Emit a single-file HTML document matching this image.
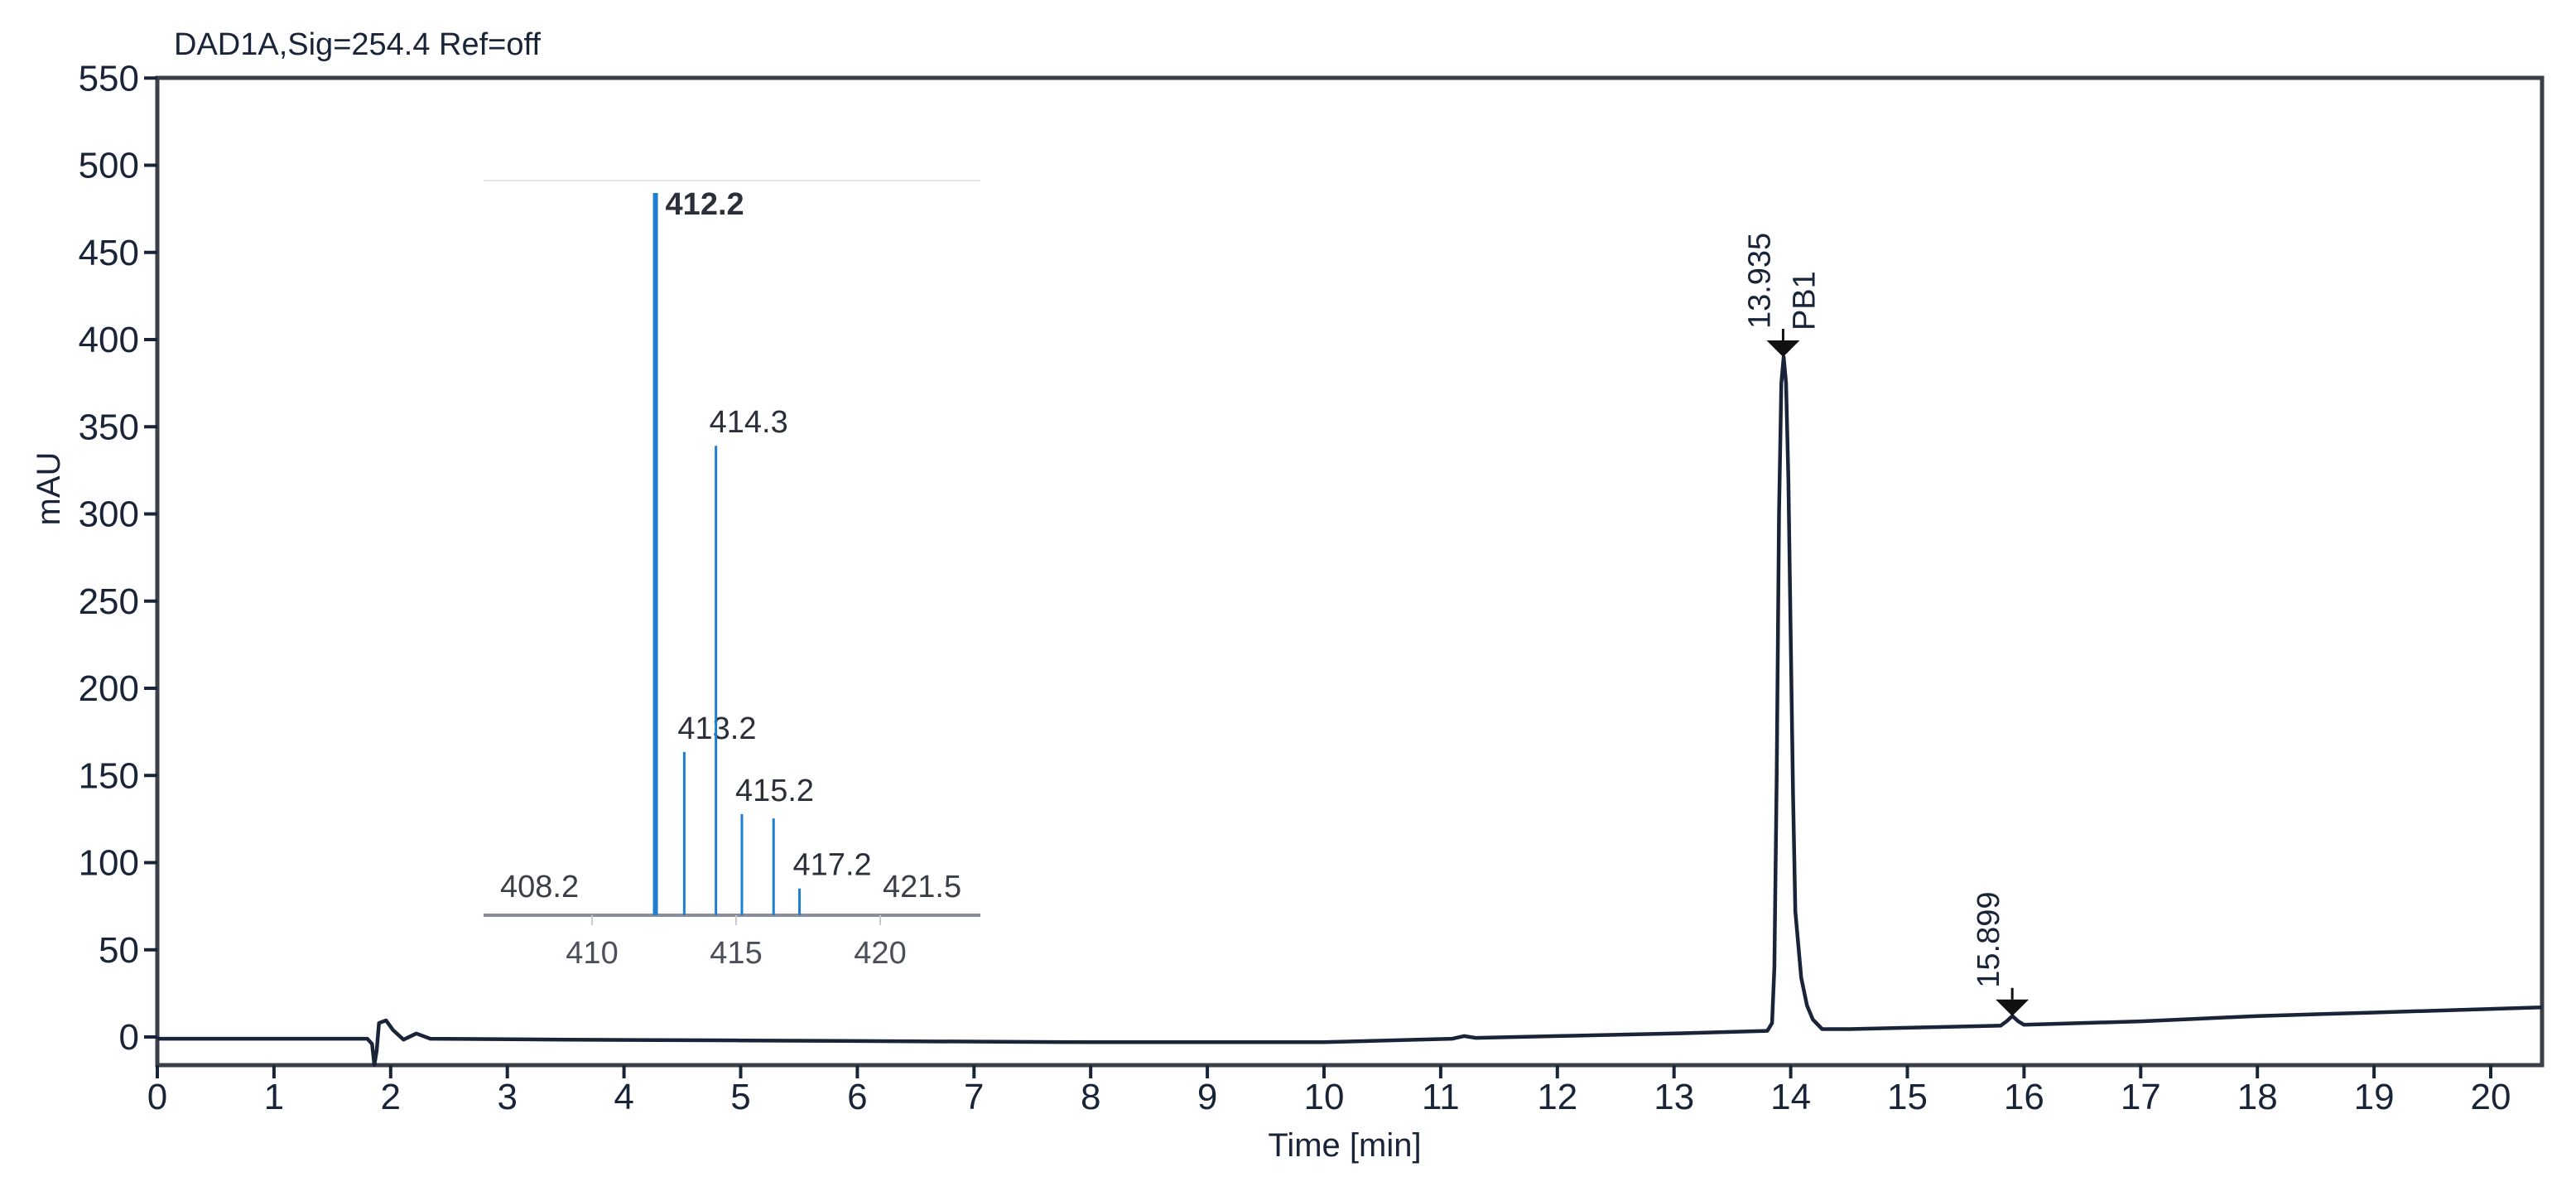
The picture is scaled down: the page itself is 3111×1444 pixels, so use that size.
<!DOCTYPE html>
<html><head><meta charset="utf-8"><style>
html,body{margin:0;padding:0;background:#fff}
svg{display:block}
text{font-family:"Liberation Sans Narrow","Liberation Sans",sans-serif}
</style></head><body>
<svg id="chart" width="3111" height="1444" viewBox="0 0 3111 1444" xmlns="http://www.w3.org/2000/svg">
<rect width="3111" height="1444" fill="#fff"/>
<text x="210" y="66" font-size="38" fill="#1a2438">DAD1A,Sig=254.4  Ref=off</text>
<text transform="translate(72,590) rotate(-90)" text-anchor="middle" font-size="40" fill="#1a2438" font-family="Liberation Sans">mAU</text>
<text x="1624" y="1396" text-anchor="middle" font-size="40" fill="#1a2438" font-family="Liberation Sans">Time [min]</text>
<g id="axes"></g>
<g id="inset"></g>
<g id="trace"></g>
<g id="annot"></g>
</svg>
<script>
// Main chromatogram data
const yTicks = [0,50,100,150,200,250,300,350,400,450,500,550];
const xTicks = [0,1,2,3,4,5,6,7,8,9,10,11,12,13,14,15,16,17,18,19,20];
const traceTimes = [0,1.8,1.84,1.86,1.88,1.9,1.96,2.02,2.11,2.22,2.34,3.5,5,8,10,11.1,11.2,11.3,12,13,13.8,13.84,13.86,13.88,13.9,13.92,13.94,13.96,13.98,14.0,14.02,14.04,14.09,14.14,14.19,14.27,14.5,15.8,15.85,15.9,15.95,16.0,17,18,19,20.44];
const traceValues = [-1,-1,-4,-16,-8,8,9.5,4,-1.5,2,-1,-1.5,-2,-3,-3,-1,0.5,-0.5,0.5,2,3.5,8,40,150,300,375,390,375,320,230,140,72,34,18,10,4.5,4.5,6.5,9,12,9,7,9,12,14,17];
const peakTimes = [13.935,15.899];
const peakHeights = [390,12];
const peakLabels = ["13.935","15.899"];
const peakNames = ["PB1",""];
// Inset mass spectrum data
const msMz = [412.2,413.2,414.3,415.2,416.3,417.2];
const msInt = [100,22.6,65,14,13.4,3.7];
const msLabels = ["412.2","413.2","414.3","415.2","","417.2"];
const msTicks = [410,415,420];
const msEdgeLabels = ["408.2","421.5"];

const NS="http://www.w3.org/2000/svg";
const X0=190, PX=140.9, Y0=1252, PY=2.105, XR=3070, YT=94, YB=1286;
const xs=t=>X0+t*PX, ys=v=>Y0-v*PY;
const mx=m=>715+(m-410)*34.8, MB=1105, my=i=>MB-i*8.72;
function mk(tag,attrs,parent,txt){const e=document.createElementNS(NS,tag);for(const k in attrs)e.setAttribute(k,attrs[k]);if(txt!==undefined)e.textContent=txt;parent.appendChild(e);return e;}
const axes=document.getElementById('axes'),inset=document.getElementById('inset'),trace=document.getElementById('trace'),annot=document.getElementById('annot');
const col="#1a2438";
let fr=mk('rect',{x:X0,y:YT,width:XR-X0,height:YB-YT,fill:'none',stroke:'#3a3f48','stroke-width':5},axes);


yTicks.forEach(v=>{
  let l=mk('line',{x1:X0-16,x2:X0,y1:ys(v),y2:ys(v),stroke:col,'stroke-width':4},axes);
  
  
  let t=mk('text',{x:X0-22,y:ys(v)+15,'text-anchor':'end','font-size':44,fill:col},axes,String(v));
  
  
});
xTicks.forEach(v=>{
  let l=mk('line',{x1:xs(v),x2:xs(v),y1:YB,y2:YB+16,stroke:col,'stroke-width':4},axes);
  
  
  let t=mk('text',{x:xs(v),y:1339,'text-anchor':'middle','font-size':44,fill:col},axes,String(v));
  
  
});
// inset
let il=mk('line',{x1:584,x2:1184,y1:MB,y2:MB,stroke:'#8a8e9a','stroke-width':4},inset);


let it=mk('line',{x1:584,x2:1184,y1:218,y2:218,stroke:'#e4e6ea','stroke-width':2},inset);


msTicks.forEach(m=>{
  let l=mk('line',{x1:mx(m),x2:mx(m),y1:MB,y2:MB+12,stroke:'#c8cad0','stroke-width':2},inset);
  
  
  let t=mk('text',{x:mx(m),y:1163,'text-anchor':'middle','font-size':38,fill:'#4a4f5a'},inset,String(m));
  
  
});
let e1=mk('text',{x:604,y:1083,'font-size':38,fill:'#3a3f48'},inset,msEdgeLabels[0]);


let e2=mk('text',{x:1066,y:1083,'font-size':38,fill:'#3a3f48'},inset,msEdgeLabels[1]);


msMz.forEach((m,i)=>{
  let b=mk('line',{x1:mx(m),x2:mx(m),y1:MB,y2:my(msInt[i]),stroke:'#1e7fd0','stroke-width':i===0?6:3},inset);
  
  
  if(msLabels[i]){
    const dx=i===0?12:-8;
    let t=mk('text',{x:mx(m)+dx,y:my(msInt[i])+(i===0?26:-16),'font-size':38,fill:'#2a2f3a','font-weight':i===0?'bold':'normal'},inset,msLabels[i]);
    
    
  }
});
// trace
let d=traceTimes.map((t,i)=>(i?'L':'M')+xs(t).toFixed(1)+','+ys(traceValues[i]).toFixed(1)).join(' ');
let p=mk('path',{d:d,fill:'none',stroke:col,'stroke-width':4.5,'stroke-linejoin':'round'},trace);


// peak annotations
peakTimes.forEach((t,i)=>{
  const x=xs(t), y=ys(peakHeights[i]);
  let tri=mk('path',{d:`M${x-20},${y-20} L${x+20},${y-20} L${x},${y} Z`,fill:'#111'},annot);
  
  
  let st=mk('line',{x1:x,x2:x,y1:y-34,y2:y-20,stroke:'#111','stroke-width':3},annot);
  
  
  let lb=mk('text',{transform:`translate(${x-16},${y-34}) rotate(-90)`,'font-size':38,fill:col,'font-family':'Liberation Sans'},annot,peakLabels[i]);
  
  
  if(peakNames[i]){
    let nm=mk('text',{transform:`translate(${x+38},${y-32}) rotate(-90)`,'font-size':38,fill:col,'font-family':'Liberation Sans'},annot,peakNames[i]);
    
    
  }
});
</script>
</body></html>
